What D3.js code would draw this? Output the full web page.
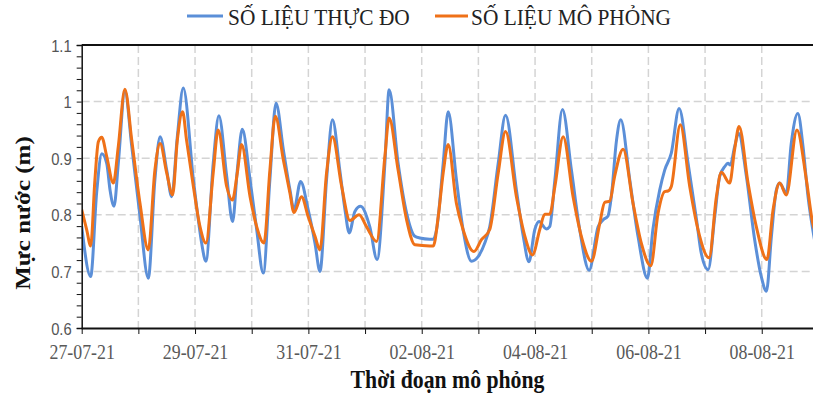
<!DOCTYPE html>
<html>
<head>
<meta charset="utf-8">
<script src="https://cdn.jsdelivr.net/npm/d3@7"></script>
<style>
  html, body { margin: 0; padding: 0; background: #fff; }
  svg { display: block; }
</style>
</head>
<body>
<svg id="chart" width="813" height="394"></svg>
<script>
// Hours elapsed since 27-07-21 00:00 and water level (m)
const obsHours = [
  0, 3.8, 6.35, 8.5, 10.6, 12.0, 13.7, 15.5, 18.3, 21.2,
  24.7, 28.2, 31.0, 33.2, 36.0, 38.1, 40.5, 43.0, 47.3, 49.4,
  50.8, 52.6, 55.7, 58.1, 61.4, 63.9, 65.9, 68.0, 71.3, 74.1,
  76.9, 79.7, 82.3, 85.4, 88.2, 89.9, 92.7, 95.9, 98.8, 100.9,
  103.7, 106.2, 109.3, 111.5, 113.3, 115.7, 118.1, 122.0, 125.1, 128.4,
  130.2, 134.0, 137.6, 141.1, 143.2, 147.4, 148.9, 150.3, 153.1, 155.2,
  158.7, 161.5, 165.1, 167.9, 170.7, 172.8, 176.4, 179.5, 184.1, 187.0,
  189.4, 191.9, 193.7, 196.8, 198.2, 200.4, 203.6, 207.4, 210.9, 214.9,
  218.7, 220.8, 222.9, 224.3, 226.5, 228.3, 232.1, 235.6, 239.6, 241.9,
  244.8, 246.9, 249.7, 253.0, 256.8, 260.4, 262.4, 265.3, 268.1, 270.2,
  272.3, 273.7, 274.7, 276.5, 278.2, 281.5, 285.0, 287.8, 290.0, 292.1,
  294.2, 295.6, 298.4, 300.5, 303.3, 305.5, 307.6, 309.6, 312
];
const obsLevel = [
  0.78, 0.691, 0.84, 0.908, 0.891, 0.844, 0.815, 0.891, 1.018, 0.921,
  0.797, 0.688, 0.862, 0.938, 0.879, 0.832, 0.938, 1.024, 0.862, 0.791,
  0.75, 0.718, 0.891, 0.975, 0.868, 0.788, 0.879, 0.951, 0.862, 0.774,
  0.697, 0.862, 0.997, 0.915, 0.844, 0.809, 0.859, 0.809, 0.75, 0.70,
  0.862, 0.968, 0.879, 0.809, 0.768, 0.806, 0.815, 0.779, 0.721, 0.891,
  1.021, 0.891, 0.803, 0.762, 0.759, 0.757, 0.757, 0.774, 0.891, 0.982,
  0.862, 0.774, 0.718, 0.726, 0.75, 0.779, 0.891, 0.976, 0.844, 0.762,
  0.717, 0.774, 0.788, 0.775, 0.779, 0.862, 0.986, 0.879, 0.774, 0.702,
  0.779, 0.791, 0.798, 0.832, 0.932, 0.968, 0.862, 0.762, 0.688, 0.774,
  0.844, 0.879, 0.909, 0.988, 0.891, 0.791, 0.732, 0.703, 0.797, 0.868,
  0.885, 0.891, 0.888, 0.92, 0.944, 0.868, 0.756, 0.691, 0.665, 0.762,
  0.844, 0.856, 0.838, 0.926, 0.979, 0.92, 0.832, 0.774, 0.72
];
const simHours = [
  0, 2.1, 3.8, 5.6, 7.05, 8.5, 10.6, 13.4, 15.5, 18.3,
  21.2, 24.7, 28.2, 31.0, 33.2, 36.0, 38.5, 40.5, 42.75, 44.4,
  47.3, 50.1, 52.6, 55.7, 57.8, 61.4, 63.8, 65.9, 67.7, 71.3,
  74.1, 77.2, 79.7, 82.0, 85.4, 88.2, 89.9, 93.1, 95.9, 98.8,
  100.9, 103.7, 106.2, 110.1, 113.6, 117.5, 120.6, 124.9, 128.4, 130.2,
  134.0, 137.6, 141.1, 147.4, 148.9, 151.0, 153.1, 155.2, 158.7, 161.5,
  166.1, 169.3, 172.8, 176.4, 179.5, 184.1, 187.7, 190.9, 194.0, 196.1,
  198.2, 200.4, 203.9, 208.1, 211.6, 215.9, 219.4, 221.5, 223.6, 225.7,
  229.3, 233.5, 237.0, 241.0, 244.1, 246.9, 248.3, 249.7, 253.5, 257.5,
  261.0, 265.7, 268.8, 270.9, 274.4, 276.5, 278.4, 282.2, 285.7, 290.2,
  292.8, 295.6, 298.4, 302.9, 306.9, 309.6, 312
];
const simLevel = [
  0.809, 0.774, 0.745, 0.862, 0.929, 0.937, 0.903, 0.856, 0.921, 1.022,
  0.932, 0.82, 0.738, 0.879, 0.926, 0.874, 0.835, 0.932, 0.982, 0.932,
  0.85, 0.779, 0.75, 0.874, 0.95, 0.85, 0.826, 0.874, 0.924, 0.832,
  0.779, 0.75, 0.879, 0.974, 0.897, 0.838, 0.804, 0.832, 0.797, 0.762,
  0.738, 0.874, 0.938, 0.85, 0.79, 0.80, 0.779, 0.753, 0.903, 0.971,
  0.879, 0.791, 0.747, 0.745, 0.745, 0.797, 0.874, 0.924, 0.82, 0.774,
  0.735, 0.756, 0.774, 0.874, 0.947, 0.832, 0.762, 0.729, 0.774, 0.801,
  0.801, 0.85, 0.938, 0.832, 0.762, 0.718, 0.785, 0.822, 0.824, 0.868,
  0.916, 0.82, 0.75, 0.71, 0.803, 0.841, 0.842, 0.85, 0.959, 0.85,
  0.774, 0.724, 0.832, 0.875, 0.856, 0.915, 0.956, 0.856, 0.779, 0.721,
  0.809, 0.856, 0.835, 0.95, 0.862, 0.785, 0.76
];
const seriesNames = ["SỐ LIỆU THỰC ĐO", "SỐ LIỆU MÔ PHỎNG"];
const seriesColors = ["#5B8FD8", "#EF7118"];
const yTickLabels = [0.6, 0.7, 0.8, 0.9, 1.0, 1.1];
const xTitle = "Thời đoạn mô phỏng";
const yTitle = "Mực nước (m)";

if (obsHours.length !== obsLevel.length || simHours.length !== simLevel.length) {
  throw new Error("length mismatch " + obsHours.length + "/" + obsLevel.length + " " + simHours.length + "/" + simLevel.length);
}

const startDay = new Date(2021, 6, 27);
const endDay = new Date(2021, 7, 10);
const toDate = h => new Date(+startDay + h * 3600e3);

const svg = d3.select("#chart");
const plotL = 81.7, plotT = 45, plotB = 328, dayPx = 56.67;
const plotR = 813;
const sx = 0.87; // horizontal compression of all lettering

const x = d3.scaleTime().domain([startDay, endDay]).range([plotL, plotL + 14 * dayPx]);
const y = d3.scaleLinear().domain([0.6, 1.1]).range([plotB, plotT]);

svg.append("defs").append("clipPath").attr("id", "plotClip")
  .append("rect").attr("x", plotL).attr("y", plotT - 5).attr("width", plotR - plotL + 5).attr("height", plotB - plotT + 10);

// gridlines
const grid = svg.append("g");
const days = d3.timeDay.range(startDay, endDay).filter(d => x(d) <= plotR);
grid.selectAll("line.v").data(days.slice(1)).join("line")
  .attr("x1", d => x(d)).attr("x2", d => x(d))
  .attr("y1", plotT).attr("y2", plotB)
  .attr("stroke", "#d4d4d4").attr("stroke-width", 1.5).attr("stroke-dasharray", "8,4");
grid.selectAll("line.h").data(yTickLabels.filter(v => v > 0.6 && v < 1.1)).join("line")
  .attr("x1", plotL).attr("x2", plotR)
  .attr("y1", d => y(d)).attr("y2", d => y(d))
  .attr("stroke", "#d4d4d4").attr("stroke-width", 1.5).attr("stroke-dasharray", "8,4");

// series
const line = d3.line().x(d => x(toDate(d[0]))).y(d => y(d[1])).curve(d3.curveMonotoneX);
const plot = svg.append("g").attr("clip-path", "url(#plotClip)");
const series = [
  d3.zip(obsHours, obsLevel),
  d3.zip(simHours, simLevel)
];
series.forEach((s, i) => {
  plot.append("path").datum(s)
    .attr("d", line)
    .attr("fill", "none")
    .attr("stroke", seriesColors[i])
    .attr("stroke-width", 3)
    .attr("stroke-linejoin", "round");
});

// frame top
svg.append("line").attr("x1", plotL).attr("x2", plotR).attr("y1", plotT).attr("y2", plotT)
  .attr("stroke", "#111").attr("stroke-width", 2);

// y axis
const yAxis = d3.axisLeft(y)
  .tickValues(d3.range(0, 26).map(i => 0.6 + i * 0.02))
  .tickSize(5)
  .tickFormat(d => {
    const t = Math.round(d * 10) / 10;
    return Math.abs(d - t) < 1e-6 ? String(+t.toFixed(1)) : "";
  });
const gy = svg.append("g").attr("transform", `translate(${plotL},0)`).call(yAxis);
gy.select(".domain").attr("stroke", "#111").attr("stroke-width", 1.5);
gy.selectAll(".tick line").attr("stroke", "#111").attr("stroke-width", 1);
gy.selectAll(".tick text")
  .attr("x", 0).attr("dy", "0.36em")
  .attr("transform", `translate(-10,0) scale(${sx},1)`)
  .attr("fill", "#555").attr("font-family", "'Liberation Sans', Arial, sans-serif").attr("font-size", 17);

// x axis: a tick every day, a label every second day
const xAxis = d3.axisBottom(x)
  .tickValues(days)
  .tickSize(6)
  .tickFormat(d => (Math.round((d - startDay) / 864e5) % 2 === 0) ? d3.timeFormat("%d-%m-%y")(d) : "");
const gx = svg.append("g").attr("transform", `translate(0,${plotB})`).call(xAxis);
gx.select(".domain").attr("stroke", "#111").attr("stroke-width", 2).attr("d", `M${plotL},0.5H${plotR}`);
gx.selectAll(".tick line").attr("stroke", "#111").attr("stroke-width", 1);
gx.selectAll(".tick text")
  .attr("y", 0).attr("dy", 0)
  .attr("transform", `translate(0,31) scale(${sx},1)`)
  .attr("fill", "#595959").attr("font-family", "'Liberation Serif', 'Times New Roman', serif").attr("font-size", 20.5);

// axis titles
svg.append("text")
  .attr("transform", `translate(447.5,388) scale(${sx},1)`)
  .attr("text-anchor", "middle")
  .attr("font-family", "'Liberation Serif', 'Times New Roman', serif")
  .attr("font-weight", "bold").attr("font-size", 25).attr("fill", "#111")
  .text(xTitle);
svg.append("text")
  .attr("transform", `translate(30,213) scale(${sx},1) rotate(-90)`)
  .attr("text-anchor", "middle")
  .attr("font-family", "'Liberation Serif', 'Times New Roman', serif")
  .attr("font-weight", "bold").attr("font-size", 25).attr("fill", "#111")
  .text(yTitle);

// legend
const legendItems = [
  { x1: 187, x2: 223, tx: 228 },
  { x1: 435, x2: 468, tx: 471 }
];
const lg = svg.append("g");
legendItems.forEach((it, i) => {
  lg.append("line").attr("x1", it.x1).attr("x2", it.x2).attr("y1", 16).attr("y2", 16)
    .attr("stroke", seriesColors[i]).attr("stroke-width", 3);
  lg.append("text")
    .attr("transform", `translate(${it.tx},25) scale(0.93,1)`)
    .attr("font-family", "'Liberation Serif', 'Times New Roman', serif")
    .attr("font-size", 23).attr("fill", "#222")
    .text(seriesNames[i]);
});
</script>
</body>
</html>
